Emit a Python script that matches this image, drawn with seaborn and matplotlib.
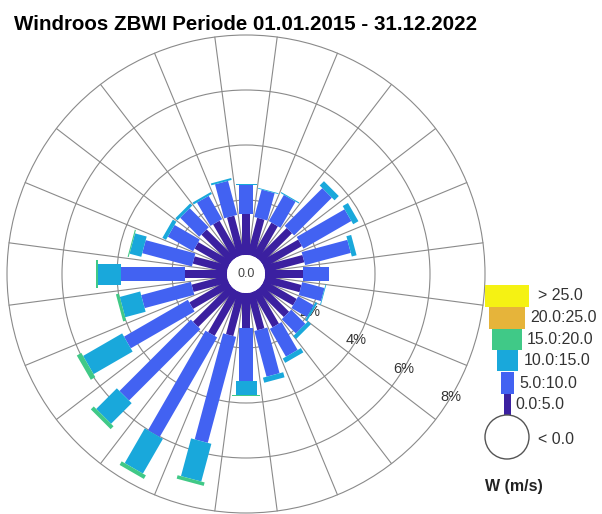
import numpy as np
import pandas as pd
import matplotlib
matplotlib.use("Agg")
import matplotlib.pyplot as plt
from matplotlib.patches import Polygon, Circle, Rectangle
import seaborn as sns

# ---------------- data ----------------
title = "Windroos ZBWI Periode 01.01.2015 - 31.12.2022"
directions = [0, 15, 30, 45, 60, 75, 90, 105, 120, 135, 150, 165,
              180, 195, 210, 225, 240, 255, 270, 285, 300, 315, 330, 345]
bin_labels = ["0.0:5.0", "5.0:10.0", "10.0:15.0", "15.0:20.0", "20.0:25.0", "> 25.0"]
calm_label = "< 0.0"
legend_title = "W (m/s)"
calm_value = "0.0"

pct_0_5 = [1.50, 1.39, 1.39, 1.54, 1.58, 1.47, 1.39, 1.36, 1.36, 1.39, 1.47, 1.39,
           1.28, 1.61, 1.83, 1.90, 1.61, 1.32, 1.54, 1.28, 1.39, 1.47, 1.47, 1.47]
pct_5_10 = [1.06, 1.03, 1.10, 1.94, 2.01, 1.72, 0.92, 0.84, 0.65, 0.73, 1.17, 1.72,
            1.91, 3.99, 4.18, 3.67, 2.68, 1.87, 2.31, 1.87, 1.06, 0.98, 0.98, 1.28]
pct_10_15 = [0.04, 0.03, 0.04, 0.22, 0.22, 0.18, 0.03, 0.03, 0.08, 0.15, 0.18, 0.19,
             0.51, 1.42, 1.46, 1.06, 1.64, 0.77, 0.84, 0.44, 0.15, 0.11, 0.08, 0.07]
pct_15_20 = [0.00, 0.00, 0.00, 0.00, 0.00, 0.00, 0.00, 0.00, 0.00, 0.00, 0.00, 0.00,
             0.04, 0.13, 0.15, 0.15, 0.19, 0.11, 0.07, 0.04, 0.00, 0.00, 0.00, 0.00]
pct_20_25 = [0.00, 0.00, 0.00, 0.00, 0.00, 0.00, 0.00, 0.00, 0.00, 0.00, 0.00, 0.00,
             0.00, 0.00, 0.00, 0.00, 0.00, 0.00, 0.00, 0.00, 0.00, 0.00, 0.00, 0.00]
pct_gt_25 = [0.00, 0.00, 0.00, 0.00, 0.00, 0.00, 0.00, 0.00, 0.00, 0.00, 0.00, 0.00,
             0.00, 0.00, 0.00, 0.00, 0.00, 0.00, 0.00, 0.00, 0.00, 0.00, 0.00, 0.00]
ring_levels = [2, 4, 6, 8]
ring_labels = ["2%", "4%", "6%", "8%"]

df = pd.DataFrame({"dir": directions, "0.0:5.0": pct_0_5, "5.0:10.0": pct_5_10,
                   "10.0:15.0": pct_10_15, "15.0:20.0": pct_15_20,
                   "20.0:25.0": pct_20_25, "> 25.0": pct_gt_25})

# ---------------- style ----------------
sns.set_theme(style="white")
plt.rcParams["font.family"] = ["Liberation Sans", "DejaVu Sans"]
colors = sns.color_palette(["#3b20a0", "#4262f2", "#19a8db", "#40c987", "#e6b43a", "#f5f213"])

PX = 27.5            # pixels per percent
R0 = 19 / PX         # calm-circle offset
widths_px = [7.5, 13.5, 21, 28, 35, 42]
grid_col = "#8a8a8a"

fig = plt.figure(figsize=(6.02, 5.14), dpi=100)
W, H = 602, 514
cx, cy = 246, 274
ax = fig.add_axes([0, 0, 492 / W, (H - 30) / H])
ax.set_xlim(-cx / PX, (492 - cx) / PX)
ax.set_ylim(-(H - cy) / PX, (cy - 30) / PX)
ax.axis("off")

# grid rings
for lev in ring_levels:
    ax.add_patch(Circle((0, 0), R0 + lev, fill=False, ec=grid_col, lw=0.8, zorder=1, clip_on=False))
# spokes
rmax = R0 + max(ring_levels)
for a in np.arange(7.5, 360, 15):
    t = np.radians(a)
    ax.plot([R0 * np.sin(t), rmax * np.sin(t)], [R0 * np.cos(t), rmax * np.cos(t)],
            color=grid_col, lw=0.8, zorder=1, clip_on=False)

# ring labels
lab_ang = np.radians(121)
for lev, lab in zip(ring_levels, ring_labels):
    r = R0 + lev
    ax.text(r * np.sin(lab_ang), r * np.cos(lab_ang), lab, ha="center", va="center",
            fontsize=10.5, color="#333333", zorder=2)

# bars
for _, row in df.iterrows():
    t = np.radians(row["dir"])
    u = np.array([np.sin(t), np.cos(t)])
    p = np.array([np.cos(t), -np.sin(t)])
    cum = R0
    for j, lab in enumerate(bin_labels):
        v = row[lab]
        if v <= 0:
            continue
        hw = widths_px[j] / PX / 2
        lo, hi = cum, cum + v
        pts = [lo * u - hw * p, lo * u + hw * p, hi * u + hw * p, hi * u - hw * p]
        ax.add_patch(Polygon(pts, closed=True, fc=colors[j], ec="none", zorder=3 + j * 0.01))
        cum = hi

ax.add_patch(Circle((0, 0), R0, fc="white", ec="none", zorder=5))
ax.text(0, 0, calm_value, ha="center", va="center", fontsize=9, color="#444444", zorder=6)

# title
fig.text(14 / W, 1 - 25 / H, title, ha="left", va="center", fontsize=14.8,
         fontweight="bold", color="black")

# ---------------- legend ----------------
lg = fig.add_axes([470 / W, 0, 132 / W, 244 / H])
lg.set_xlim(470, 602)
lg.set_ylim(514, 270)
lg.axis("off")
leg_w = [7, 13, 21, 30, 36, 44]
leg_top = [394, 372, 350, 329, 307, 285]
leg_bot = [415, 394, 371, 350, 329, 307]
leg_gap = [5, 6, 6, 5, 5, 9]
lx = 507
for j, lab in enumerate(bin_labels):
    w = leg_w[j]
    lg.add_patch(Rectangle((lx - w / 2, leg_top[j]), w, leg_bot[j] - leg_top[j],
                           fc=colors[j], ec="none"))
    lg.text(lx + w / 2 + leg_gap[j], (leg_top[j] + leg_bot[j]) / 2, lab, ha="left", va="center",
            fontsize=11.5, color="#333333")
lg.add_patch(Circle((lx, 437), 22, fc="white", ec="#555555", lw=1.0))
lg.text(538, 439, calm_label, ha="left", va="center", fontsize=11.5, color="#333333")
lg.text(485, 486, legend_title, ha="left", va="center", fontsize=11.5,
        fontweight="bold", color="#222222")

fig.savefig("out.png", dpi=100)
